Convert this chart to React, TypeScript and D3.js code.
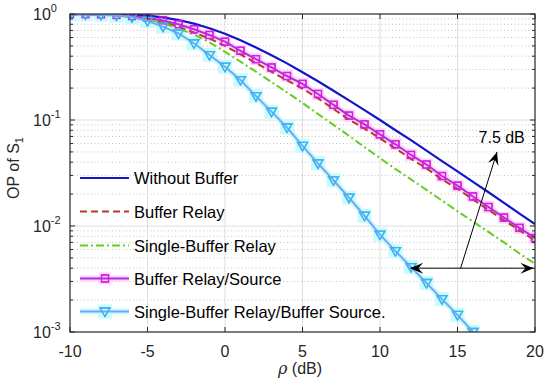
import React from 'react';
import { scaleLinear, scaleLog, line } from 'd3';

// SNR axis (dB) and outage probability
const snrDb = [-10, -9, -8, -7, -6, -5, -4, -3, -2, -1, 0, 1, 2, 3, 4, 5, 6, 7, 8, 9, 10, 11, 12, 13, 14, 15, 16, 17, 18, 19, 20];

const withoutBuffer = [1.0, 0.9998, 0.9987, 0.995, 0.985, 0.964, 0.929, 0.877, 0.811, 0.735, 0.65, 0.566, 0.484, 0.409, 0.342, 0.282, 0.232, 0.189, 0.153, 0.124, 0.1, 0.08, 0.0645, 0.0514, 0.041, 0.0327, 0.0261, 0.0208, 0.0165, 0.0131, 0.0104];
const bufferRelay = [0.993, 0.99, 0.984, 0.97, 0.94, 0.895, 0.835, 0.76, 0.67, 0.585, 0.5, 0.415, 0.345, 0.285, 0.237, 0.198, 0.16, 0.127, 0.101, 0.083, 0.067, 0.054, 0.043, 0.035, 0.0275, 0.0224, 0.0178, 0.0142, 0.0113, 0.0091, 0.0073];
const singleBufferRelay = [0.995, 0.99, 0.98, 0.965, 0.935, 0.89, 0.82, 0.73, 0.64, 0.54, 0.44, 0.355, 0.285, 0.228, 0.182, 0.145, 0.114, 0.09, 0.071, 0.0555, 0.0437, 0.0345, 0.0275, 0.0219, 0.0174, 0.0138, 0.011, 0.0088, 0.007, 0.0055, 0.0044];
const bufferRelaySource = [0.995, 0.993, 0.989, 0.978, 0.955, 0.92, 0.87, 0.8, 0.718, 0.634, 0.548, 0.45, 0.375, 0.313, 0.26, 0.219, 0.176, 0.139, 0.11, 0.091, 0.0733, 0.059, 0.0468, 0.038, 0.0296, 0.024, 0.019, 0.0151, 0.012, 0.0096, 0.0077];
const singleBufferRelayBufferSource = [0.995, 0.99, 0.985, 0.97, 0.935, 0.86, 0.76, 0.655, 0.53, 0.41, 0.318, 0.238, 0.168, 0.12, 0.085, 0.057, 0.039, 0.027, 0.0185, 0.0125, 0.0083, 0.0058, 0.0041, 0.0029, 0.00204, 0.00145, 0.001];

const xTicks = [-10, -5, 0, 5, 10, 15, 20];
const yDecades = [0, -1, -2, -3];

// annotation: [dB, OP]
const gapArrow = [[11.95, 0.004], [19.9, 0.004]];
const gainArrow = [[15.2, 0.004], [17.55, 0.05]];
const gainLabel = '7.5 dB';

const W = 550, H = 387;
const L = 70, R = 535, T = 14, B = 332;
const axisColor = '#262626';
const font = '"Liberation Sans", Arial, sans-serif';

const x = scaleLinear().domain([-10, 20]).range([L, R]);
const y = scaleLog().domain([1e-3, 1]).range([B, T]);

type Series = {
  name: string;
  values: number[];
  color: string;
  width: number;
  dash?: string;
  marker?: 'square' | 'tri';
  markerColor?: string;
  halo?: string;
};

const series: Series[] = [
  { name: 'Without Buffer', values: withoutBuffer, color: '#1414c8', width: 2.2 },
  { name: 'Buffer Relay', values: bufferRelay, color: '#b83a28', width: 2, dash: '7,4' },
  { name: 'Single-Buffer Relay', values: singleBufferRelay, color: '#66cc1e', width: 2, dash: '8,3,2,3' },
  { name: 'Buffer Relay/Source', values: bufferRelaySource, color: '#b030d8', width: 2, marker: 'square', markerColor: '#d81ee0', halo: '#ffd4ff' },
  { name: 'Single-Buffer Relay/Buffer Source.', values: singleBufferRelayBufferSource, color: '#74a8f0', width: 2, marker: 'tri', markerColor: '#3cb4f0', halo: '#c8fbff' },
];

function Marker({ kind, cx, cy, color, halo }: { kind: string; cx: number; cy: number; color: string; halo?: string }) {
  if (kind === 'square') {
    return (
      <g>
        {halo && <rect x={cx - 6} y={cy - 6} width={12} height={12} fill={halo} />}
        <rect x={cx - 3.5} y={cy - 3.5} width={7} height={7} fill="none" stroke={color} strokeWidth={1.3} />
      </g>
    );
  }
  return (
    <g>
      {halo && <rect x={cx - 7} y={cy - 7} width={14} height={14} fill={halo} />}
      <path d={`M${cx - 5},${cy - 3.5}L${cx + 5},${cy - 3.5}L${cx},${cy + 5}Z`} fill="none" stroke={color} strokeWidth={1.3} />
    </g>
  );
}

function arrowHead(x1: number, y1: number, x2: number, y2: number) {
  const a = Math.atan2(y2 - y1, x2 - x1);
  const len = 13, w = 5.5, notch = 8;
  const pts = [
    [0, 0],
    [-len, w],
    [-notch, 0],
    [-len, -w],
  ].map(([u, v]) => [x2 + u * Math.cos(a) - v * Math.sin(a), y2 + u * Math.sin(a) + v * Math.cos(a)]);
  return 'M' + pts.map((p) => p.join(',')).join('L') + 'Z';
}

export default function App() {
  const path = line<number>()
    .x((_, i) => x(snrDb[i]))
    .y((d) => y(d));

  const minor: number[] = [];
  for (let e = -3; e < 0; e++) for (let m = 2; m <= 9; m++) minor.push(m * Math.pow(10, e));

  const [g1, g2] = gapArrow.map(([d, p]) => [x(d), y(p)]);
  const [k1, k2] = gainArrow.map(([d, p]) => [x(d), y(p)]);
  const legendY = [178, 211.5, 245.5, 278.5, 311.5];

  return (
    <svg width={W} height={H} style={{ position: 'absolute', left: 0, top: 0, background: '#fff' }} fontFamily={font}>
      <defs>
        <clipPath id="plot">
          <rect x={L} y={T} width={R - L} height={B - T} />
        </clipPath>
      </defs>
      <rect x={0} y={0} width={W} height={H} fill="#fff" />

      {/* grid */}
      {minor.map((v) => (
        <line key={'m' + v} x1={L} x2={R} y1={y(v)} y2={y(v)} stroke="#c4c4c4" strokeWidth={1} strokeDasharray="1,2.5" />
      ))}
      {yDecades.slice(1, 3).map((e) => (
        <line key={'yg' + e} x1={L} x2={R} y1={y(Math.pow(10, e))} y2={y(Math.pow(10, e))} stroke="#dedede" strokeWidth={1} />
      ))}
      {xTicks.slice(1, -1).map((t) => (
        <line key={'xg' + t} x1={x(t)} x2={x(t)} y1={T} y2={B} stroke="#dedede" strokeWidth={1} />
      ))}

      {/* curves */}
      <g clipPath="url(#plot)">
        {series.filter((s) => s.halo).map((s) => (
          <path key={'h' + s.name} d={path(s.values) || ''} fill="none" stroke={s.halo} strokeWidth={6} />
        ))}
        {series.map((s) => (
          <g key={s.name}>
            {s.marker && s.values.map((v, i) => (
              <Marker key={i} kind={s.marker!} cx={x(snrDb[i])} cy={y(v)} color={s.markerColor!} halo={s.halo} />
            ))}
          </g>
        ))}
        {series.map((s) => (
          <g key={'l' + s.name}>
            <path d={path(s.values) || ''} fill="none" stroke={s.color} strokeWidth={s.width} strokeDasharray={s.dash} />
            {s.marker && s.values.map((v, i) => (
              <Marker key={i} kind={s.marker!} cx={x(snrDb[i])} cy={y(v)} color={s.markerColor!} />
            ))}
          </g>
        ))}
      </g>

      {/* axes box and ticks */}
      <rect x={L} y={T} width={R - L} height={B - T} fill="none" stroke={axisColor} strokeWidth={1.2} />
      {xTicks.map((t) => (
        <g key={'xt' + t}>
          <line x1={x(t)} x2={x(t)} y1={B} y2={B - 5} stroke={axisColor} />
          <line x1={x(t)} x2={x(t)} y1={T} y2={T + 5} stroke={axisColor} />
          <text x={x(t)} y={357} textAnchor="middle" fontSize={16} fill={axisColor}>{t}</text>
        </g>
      ))}
      {minor.map((v) => (
        <g key={'yt' + v}>
          <line x1={L} x2={L + 3} y1={y(v)} y2={y(v)} stroke={axisColor} />
          <line x1={R} x2={R - 3} y1={y(v)} y2={y(v)} stroke={axisColor} />
        </g>
      ))}
      {yDecades.map((e) => (
        <g key={'yd' + e}>
          <line x1={L} x2={L + 5} y1={y(Math.pow(10, e))} y2={y(Math.pow(10, e))} stroke={axisColor} />
          <line x1={R} x2={R - 5} y1={y(Math.pow(10, e))} y2={y(Math.pow(10, e))} stroke={axisColor} />
          <text x={33} y={y(Math.pow(10, e)) + 6} fontSize={16} fill={axisColor}>
            10<tspan fontSize={11} dy={-8}>{e}</tspan>
          </text>
        </g>
      ))}

      {/* axis labels */}
      <text x={300} y={374} textAnchor="middle" fontSize={16} fill={axisColor}>
        <tspan fontStyle="italic" fontFamily='"DejaVu Serif", serif'>ρ</tspan> (dB)
      </text>
      <text transform="translate(19,168) rotate(-90)" textAnchor="middle" fontSize={16} fill={axisColor}>
        OP of S<tspan fontSize={11} dy={4}>1</tspan>
      </text>

      {/* legend */}
      {series.map((s, i) => (
        <g key={'lg' + s.name}>
          {s.halo && <line x1={80} x2={129} y1={legendY[i]} y2={legendY[i]} stroke={s.halo} strokeWidth={6} />}
          {s.marker && <Marker kind={s.marker} cx={105} cy={legendY[i]} color={s.markerColor!} halo={s.halo} />}
          <line x1={80} x2={129} y1={legendY[i]} y2={legendY[i]} stroke={s.color} strokeWidth={s.width} strokeDasharray={s.dash} />
          {s.marker && <Marker kind={s.marker} cx={105} cy={legendY[i]} color={s.markerColor!} />}
          <text x={134} y={legendY[i] + 6} fontSize={16.5} fill="#000">{s.name}</text>
        </g>
      ))}

      {/* annotation */}
      <line x1={g1[0]} y1={g1[1]} x2={g2[0]} y2={g2[1]} stroke="#000" strokeWidth={1} />
      <path d={arrowHead(g2[0], g2[1], g1[0], g1[1])} fill="#000" />
      <path d={arrowHead(g1[0], g1[1], g2[0], g2[1])} fill="#000" />
      <line x1={k1[0]} y1={k1[1]} x2={k2[0]} y2={k2[1]} stroke="#000" strokeWidth={1} />
      <path d={arrowHead(k1[0], k1[1], k2[0], k2[1])} fill="#000" />
      <text x={x(17.85)} y={y(0.061)} textAnchor="middle" fontSize={16} fill="#000">{gainLabel}</text>
    </svg>
  );
}
